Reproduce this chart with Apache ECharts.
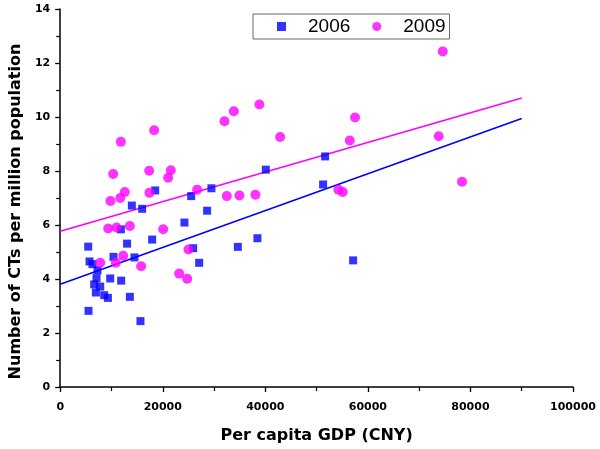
<!DOCTYPE html>
<html>
<head>
<meta charset="utf-8">
<script src="https://cdn.jsdelivr.net/npm/echarts@6/dist/echarts.min.js"></script>
<style>html,body{margin:0;padding:0;background:#fff}#c{width:600px;height:449px}</style>
</head>
<body>
<div id="c"></div>
<script>
// 2006 data: [GDP, CTs per million]
var gdp2006 = [5460,5520,5720,6300,7270,7080,6630,7800,6960,8580,9300,9750,10390,11830,11890,13040,13580,13970,14480,15650,15980,17930,18520,24230,25540,25930,27100,28650,29490,34640,38460,40090,51270,51660,57120];
var ct2006  = [5.20,2.82,4.65,4.55,4.32,4.03,3.80,3.72,3.50,3.40,3.30,4.02,4.82,5.84,3.94,5.31,3.34,6.72,4.80,2.44,6.60,5.46,7.28,6.09,7.07,5.14,4.60,6.53,7.36,5.19,5.51,8.05,7.50,8.54,4.69];
// 2009 data
var gdp2009 = [9800,10330,11830,11700,12600,17350,18320,17400,21050,21570,26700,32030,33860,32490,34950,38070,38850,42890,74600,57500,56470,73820,78360,54250,55100,9360,10980,13580,20080,7800,10850,12280,15790,23200,24760,25010];
var ct2009  = [6.89,7.89,9.08,7.00,7.22,8.01,9.51,7.19,7.75,8.03,7.31,9.84,10.21,7.07,7.09,7.12,10.46,9.26,12.43,9.98,9.13,9.29,7.60,7.31,7.22,5.87,5.91,5.96,5.84,4.60,4.60,4.86,4.47,4.20,4.01,5.09];
// fitted line endpoints
var fitX = [0, 90000];
var fit2006 = [3.81, 9.94];
var fit2009 = [5.77, 10.70];
var xTicks = [0, 20000, 40000, 60000, 80000, 100000];
var yTicks = [0, 2, 4, 6, 8, 10, 12, 14];

function pairs(xs, ys){ return xs.map(function(x,i){ return [x, ys[i]]; }); }

var font = 'Arial, "Liberation Sans", sans-serif';
var wide = '"DejaVu Sans", sans-serif';
var chart = echarts.init(document.getElementById('c'), null, {renderer:'canvas'});
chart.setOption({
  animation: false,
  backgroundColor: '#fff',
  textStyle: {fontFamily: font},
  grid: {left: 60, right: 27, top: 9, bottom: 60},
  legend: {
    left: 253, top: 14,
    padding: [3, 4, 3, 24],
    itemWidth: 9, itemHeight: 9, itemGap: 22,
    borderColor: '#666', borderWidth: 1,
    textStyle: {fontSize: 19, color: '#000', fontFamily: font, padding: [0, 0, 0, 17]},
    data: [{name: '2006', icon: 'rect'}, {name: '2009', icon: 'circle'}]
  },
  xAxis: {
    type: 'value', min: xTicks[0], max: xTicks[xTicks.length-1], interval: 20000,
    name: 'Per capita GDP (CNY)', nameLocation: 'middle', nameGap: 41,
    nameTextStyle: {fontSize: 16, fontWeight: 'bold', color: '#000', fontFamily: wide},
    axisLine: {lineStyle: {color: '#000', width: 1.5}},
    axisTick: {length: 5, lineStyle: {color: '#000', width: 1.3}},
    minorTick: {show: true, splitNumber: 2, length: 4, lineStyle: {color: '#000', width: 1.2}},
    axisLabel: {fontSize: 11, fontWeight: 'bold', color: '#000', margin: 15, fontFamily: wide,
                formatter: function(v){ return String(v); }},
    splitLine: {show: false}
  },
  yAxis: {
    type: 'value', min: yTicks[0], max: yTicks[yTicks.length-1], interval: 2,
    name: 'Number of CTs per million population', nameLocation: 'middle', nameGap: 36,
    nameTextStyle: {fontSize: 16, fontWeight: 'bold', color: '#000', fontFamily: wide, padding: [0, 27, 0, 0]},
    axisLine: {lineStyle: {color: '#000', width: 1.5}},
    axisTick: {length: 5, lineStyle: {color: '#000', width: 1.3}},
    minorTick: {show: true, splitNumber: 2, length: 4, lineStyle: {color: '#000', width: 1.2}},
    axisLabel: {fontSize: 11, fontWeight: 'bold', color: '#000', margin: 10, fontFamily: wide},
    splitLine: {show: false}
  },
  series: [
    {name: '2006', type: 'scatter', symbol: 'rect', symbolSize: 8,
     itemStyle: {color: '#0000FF'}, data: pairs(gdp2006, ct2006), z: 3},
    {name: '2009', type: 'scatter', symbol: 'circle', symbolSize: 10,
     itemStyle: {color: '#FF00FF'}, data: pairs(gdp2009, ct2009), z: 3},
    {name: 'fit2006', type: 'line', showSymbol: false, symbol: 'none', silent: true,
     lineStyle: {color: '#0000FF', width: 1.6}, data: pairs(fitX, fit2006), z: 2},
    {name: 'fit2009', type: 'line', showSymbol: false, symbol: 'none', silent: true,
     lineStyle: {color: '#FF00FF', width: 1.6}, data: pairs(fitX, fit2009), z: 2}
  ]
});
</script>
</body>
</html>
